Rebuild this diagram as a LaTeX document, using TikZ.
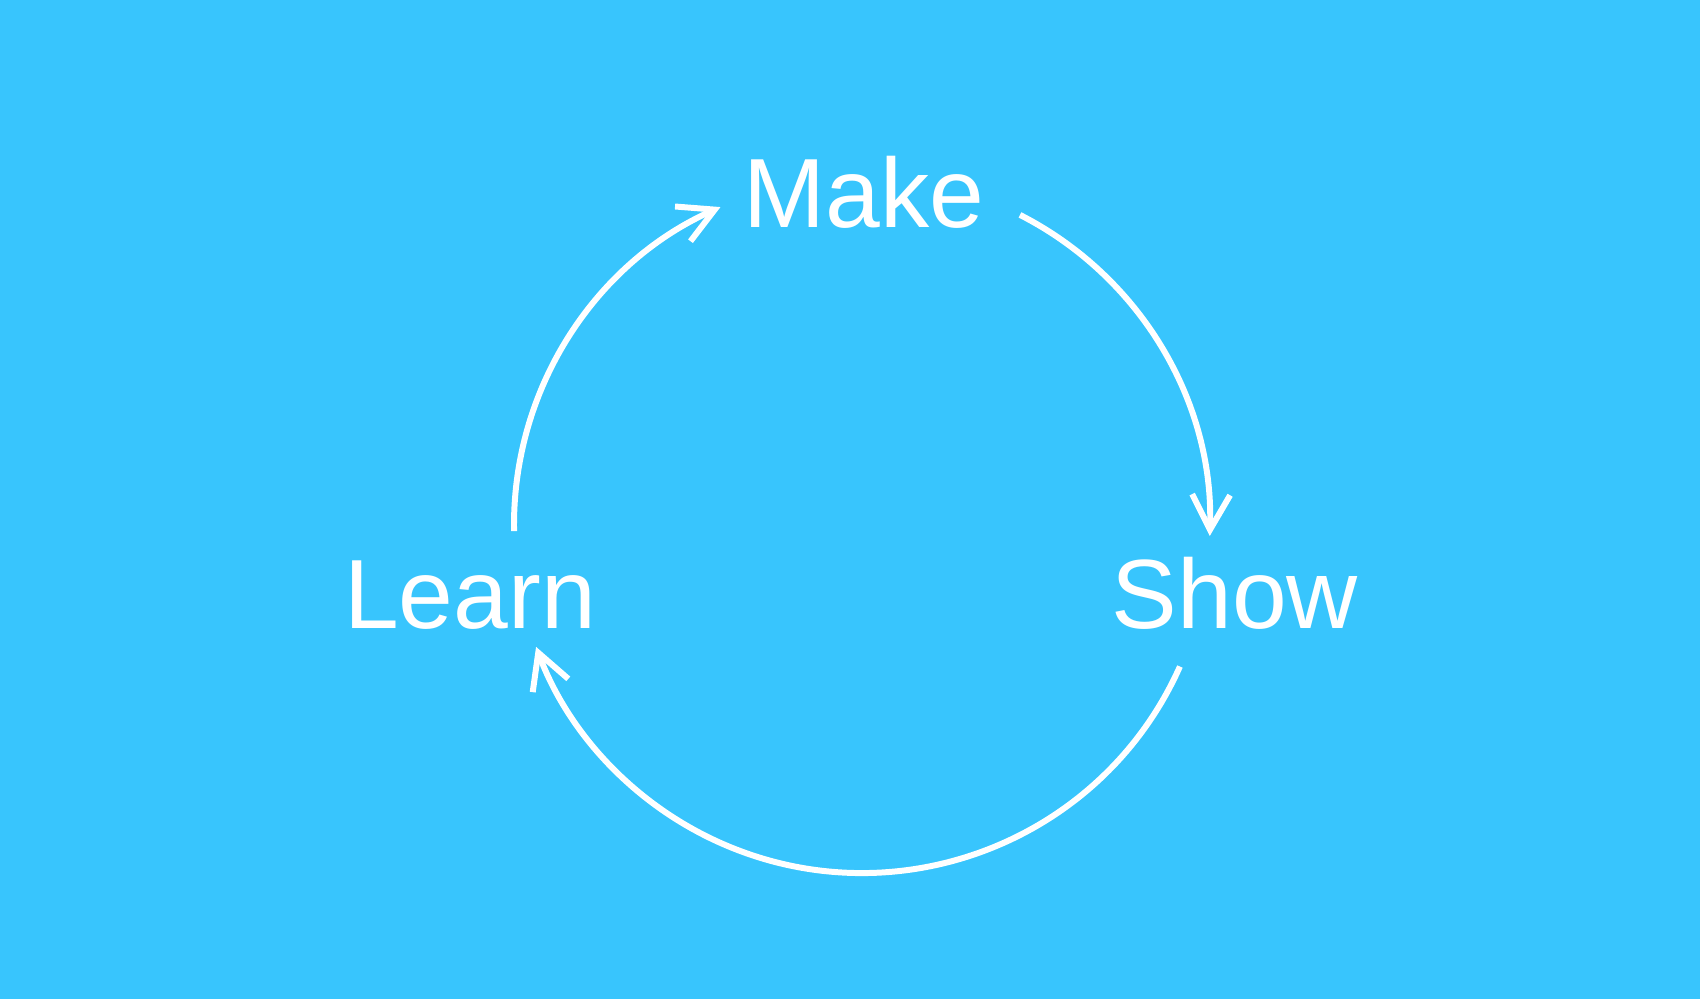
\documentclass[tikz,border=0pt]{standalone}
\usepackage{fontspec}
\setmainfont{Liberation Sans}
\usetikzlibrary{arrows.meta}
\definecolor{sky}{HTML}{38C5FD}
\definecolor{chalk}{HTML}{FFFFFF}

\begin{document}
\begin{tikzpicture}[
  word/.style={text=chalk, anchor=base, inner sep=0pt, font=\fontsize{28}{30}\selectfont},
  arr/.style={-{Straight Barb[length=3.5mm, width=3.8mm, line width=1.7pt]}, draw=chalk, line width=1.7pt},
]
\fill[sky] (0,0) rectangle (17,9.99);
\useasboundingbox (0,0) rectangle (17,9.99);
\coordinate (c) at (8.62,4.74);
\node[word] (make) at (8.64,7.71) {Make};
\node[word] (learn) at (4.70,3.70) {Learn};
\node[word] (show) at (12.35,3.70) {Show};
% cycle
\coordinate (learnout) at ([shift={(181:3.48)}]c);
\coordinate (makeout) at ([shift={(63:3.48)}]c);
\coordinate (showout) at ([shift={(-24:3.48)}]c);
\draw[arr] (learnout) arc[start angle=181, end angle=114, radius=3.48];
\draw[arr] (makeout) arc[start angle=63, end angle=-1.8, radius=3.48];
\draw[arr] (showout) arc[start angle=-24, end angle=-159.5, radius=3.48];
\end{tikzpicture}
\end{document}
